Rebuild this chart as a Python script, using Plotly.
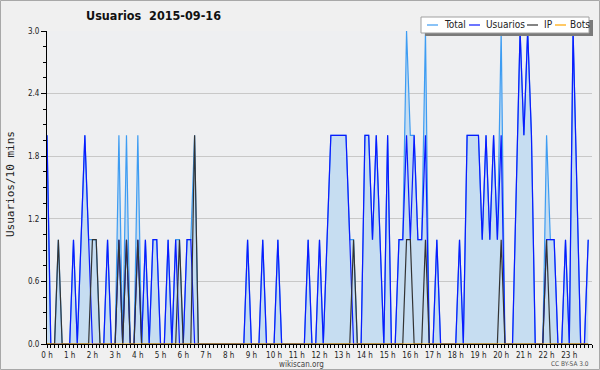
import numpy as np
import plotly.graph_objects as go

# 10-minute slots, 6 per hour
usuarios = [
    2, 0, 0, 0, 0, 0,   0, 1, 0, 1, 2, 1,   0, 0, 0, 0, 1, 0,   0, 1, 0, 1, 0, 0,
    1, 0, 1, 0, 1, 1,   0, 0, 1, 0, 1, 0,   0, 1, 1, 0, 0, 0,   0, 0, 0, 0, 0, 0,
    0, 0, 0, 0, 0, 1,   0, 0, 0, 1, 0, 0,   0, 1, 0, 0, 0, 0,   0, 0, 0, 1, 0, 0,
    1, 0, 1, 2, 2, 2,   2, 2, 1, 0, 0, 0,   2, 2, 1, 2, 1, 0,   2, 0, 0, 1, 1, 2,
    1, 2, 1, 1, 2, 0,   0, 1, 0, 0, 0, 0,   0, 1, 0, 2, 2, 2,   2, 1, 2, 1, 2, 1,
    2, 0, 0, 0, 1.5, 3, 2, 3, 2, 0, 0, 0,   1, 1, 1, 0, 0, 1,   0, 3, 1.5, 0, 0, 1,
]
ip = [
    0, 0, 0, 1, 0, 0,   0, 0, 0, 0, 0, 0,   1, 1, 0, 0, 0, 0,   0, 1, 0, 1, 0, 0,
    1, 0, 0, 0, 0, 0,   0, 0, 0, 0, 0, 1,   0, 0, 0, 2, 0, 0,   0, 0, 0, 0, 0, 0,
    0, 0, 0, 0, 0, 0,   0, 0, 0, 0, 0, 0,   0, 0, 0, 0, 0, 0,   0, 0, 0, 0, 0, 0,
    0, 0, 0, 0, 0, 0,   0, 0, 0, 1, 0, 0,   0, 0, 0, 0, 0, 0,   0, 0, 0, 0, 0, 1,
    1, 0, 0, 0, 1, 0,   0, 0, 0, 0, 0, 0,   0, 0, 0, 0, 0, 0,   0, 0, 0, 0, 0, 0,
    1, 0, 0, 0, 0, 0,   0, 0, 0, 0, 0, 0,   1, 0, 0, 0, 0, 0,   0, 0, 0, 0, 0, 0,
]
total = [
    2, 0, 0, 1, 0, 0,   0, 1, 0, 1, 2, 1,   1, 1, 0, 0, 1, 0,   0, 2, 0, 2, 0, 0,
    2, 0, 1, 0, 1, 1,   0, 0, 1, 0, 1, 1,   0, 1, 1, 2, 0, 0,   0, 0, 0, 0, 0, 0,
    0, 0, 0, 0, 0, 1,   0, 0, 0, 1, 0, 0,   0, 1, 0, 0, 0, 0,   0, 0, 0, 1, 0, 0,
    1, 0, 1, 2, 2, 2,   2, 2, 1, 1, 0, 0,   2, 2, 1, 2, 1, 0,   2, 0, 0, 1, 1, 3,
    2, 2, 1, 1, 3, 0,   0, 1, 0, 0, 0, 0,   0, 1, 0, 2, 2, 2,   2, 1, 2, 1, 2, 1,
    3, 0, 0, 0, 1.5, 3, 2, 3, 2, 0, 0, 0,   2, 1, 1, 0, 0, 1,   0, 3, 1.5, 0, 0, 1,
]
bots = [0] * 144

hour_ticks = list(range(24))
hour_labels = [f"{h} h" for h in hour_ticks]
y_ticks = [0.0, 0.6, 1.2, 1.8, 2.4, 3.0]

x = np.arange(len(usuarios)) / 6.0

C_TOTAL = "#3d9cf2"
C_USR = "#0a1aff"
C_IP = "#333333"
C_BOTS = "#ffa500"
FONT = "DejaVu Sans Condensed, Liberation Sans Narrow, DejaVu Sans, sans-serif"

fig = go.Figure()
fig.add_trace(go.Scatter(x=x, y=total, mode="lines", name="Total",
                         line=dict(color=C_TOTAL, width=1.2),
                         fill="tozeroy", fillcolor="#c6ddf1"))
fig.add_trace(go.Scatter(x=x, y=usuarios, mode="lines", name="Usuarios",
                         line=dict(color=C_USR, width=1.2)))
fig.add_trace(go.Scatter(x=x, y=ip, mode="lines", name="IP",
                         line=dict(color=C_IP, width=1.2)))
fig.add_trace(go.Scatter(x=x, y=bots, mode="lines", name="Bots",
                         line=dict(color=C_BOTS, width=1.2)))

L, R, T, B = 47, 8, 31, 26
W, H = 600 - L - R, 370 - T - B


def px(v):
    return (v - L) / W


def py(v):
    return (370 - B - v) / H


shapes = []
annotations = []

# outer border
shapes.append(dict(type="rect", xref="paper", yref="paper",
                   x0=px(0.5), x1=px(599.5), y0=py(369.5), y1=py(0.5),
                   line=dict(color="#a8a8a8", width=1), layer="below"))

# legend box with shadow
shapes.append(dict(type="rect", xref="paper", yref="paper",
                   x0=px(425), x1=px(593), y0=py(36), y1=py(20),
                   fillcolor="#7a7a7a", line=dict(width=0), layer="above"))
shapes.append(dict(type="rect", xref="paper", yref="paper",
                   x0=px(421), x1=px(589), y0=py(33), y1=py(17),
                   fillcolor="white", line=dict(color="#a0a0a0", width=1), layer="above"))
legend_items = [("Total", C_TOTAL, 427, 442), ("Usuarios", C_USR, 469, 484),
                ("IP", C_IP, 527, 542), ("Bots", C_BOTS, 555, 568)]
for name, col, lx, tx in legend_items:
    shapes.append(dict(type="line", xref="paper", yref="paper",
                       x0=px(lx), x1=px(lx + 11), y0=py(25), y1=py(25),
                       line=dict(color=col, width=1.2), layer="above"))
    annotations.append(dict(text=name, xref="paper", yref="paper",
                            x=px(tx), y=py(25), xanchor="left", yanchor="middle",
                            showarrow=False, font=dict(family=FONT, size=10, color="#222")))

# title
annotations.append(dict(text="<b>Usuarios\u00a0\u00a02015-09-16</b>", xref="paper", yref="paper",
                        x=px(84), y=py(16), xanchor="left", yanchor="middle",
                        showarrow=False, font=dict(family=FONT, size=12.5, color="#111")))
# y-axis title
annotations.append(dict(text="Usuarios/10 mins", xref="paper", yref="paper",
                        x=px(10), y=py(184), xanchor="center", yanchor="middle",
                        textangle=-90, showarrow=False,
                        font=dict(family="DejaVu Sans Mono, monospace", size=11, color="#222")))
# footer
annotations.append(dict(text="wikiscan.org", xref="paper", yref="paper",
                        x=px(301), y=py(364.5), xanchor="center", yanchor="middle",
                        showarrow=False, font=dict(family=FONT, size=8, color="#444")))
annotations.append(dict(text="CC BY-SA 3.0", xref="paper", yref="paper",
                        x=px(570), y=py(364), xanchor="center", yanchor="middle",
                        showarrow=False, font=dict(family=FONT, size=6.5, color="#555")))

fig.update_layout(
    width=600, height=370, autosize=False,
    margin=dict(l=L, r=R, t=T, b=B, pad=0),
    paper_bgcolor="#f0f0f0", plot_bgcolor="#eeeff1",
    showlegend=False,
    shapes=shapes, annotations=annotations,
    font=dict(family=FONT, size=8, color="#222"),
)
fig.update_xaxes(
    range=[0, 24], tickvals=hour_ticks, ticktext=hour_labels,
    showgrid=False, zeroline=False, showline=True, linecolor="black", linewidth=1,
    ticks="outside", ticklen=3, tickcolor="black", tickwidth=1,
    tickfont=dict(family=FONT, size=8, color="#222"),
    minor=dict(dtick=1 / 6, ticks="outside", ticklen=3, tickcolor="black", showgrid=False),
    layer="above traces", fixedrange=True,
)
fig.update_yaxes(
    range=[0, 3.0], tickvals=y_ticks, tickformat=".1f",
    showgrid=True, gridcolor="#c8c8c8", gridwidth=1, zeroline=False,
    showline=True, linecolor="black", linewidth=1,
    ticks="outside", ticklen=5, tickcolor="black", tickwidth=1,
    tickfont=dict(family=FONT, size=8, color="#222"),
    minor=dict(dtick=0.15, ticks="outside", ticklen=3, tickcolor="black", showgrid=False),
    layer="above traces", fixedrange=True,
)

fig.write_html(
    "out.html",
    config={"displayModeBar": False},
    post_script="document.body.style.margin='0';document.body.style.padding='0';",
)
